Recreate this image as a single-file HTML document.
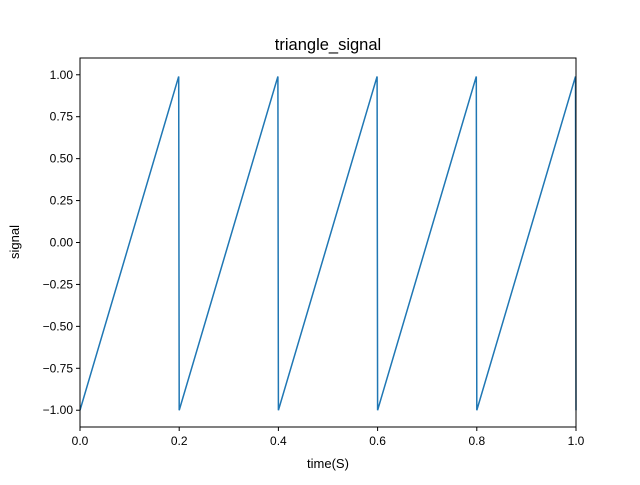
<!DOCTYPE html>
<html><head><meta charset="utf-8"><style>
body{margin:0;background:#fff}
svg text{font-family:"Liberation Sans","DejaVu Sans",sans-serif;fill:#000}
</style></head><body>
<svg id="chart" width="640" height="480">
<rect width="640" height="480" fill="#fff"/>
<text x="328" y="50" font-size="16.5" text-anchor="middle">triangle_signal</text>
<text x="328" y="468" font-size="13" text-anchor="middle">time(S)</text>
<text transform="translate(19,242) rotate(-90)" font-size="13" text-anchor="middle">signal</text>
<g id="ticks"></g>
<path id="line" fill="none" stroke="#1f77b4" stroke-width="1.5"/>
<rect x="80" y="58" width="496" height="369" fill="none" stroke="#000" stroke-width="1"/>
</svg>
<script>
const times=[0,0.199,0.2,0.399,0.4,0.599,0.6,0.799,0.8,0.999,1.0];
const values=[-1,0.99,-1,0.99,-1,0.99,-1,0.99,-1,0.99,-1];
const xTicks=[0,0.2,0.4,0.6,0.8,1.0];
const xTickLabels=["0.0","0.2","0.4","0.6","0.8","1.0"];
const yTicks=[-1,-0.75,-0.5,-0.25,0,0.25,0.5,0.75,1];
const yTickLabels=["−1.00","−0.75","−0.50","−0.25","0.00","0.25","0.50","0.75","1.00"];
const X0=80,X1=576,Y0=427,Y1=58,ymin=-1.1,ymax=1.1;
const sx=t=>X0+(t-0)/(1-0)*(X1-X0);
const sy=v=>Y0-(v-ymin)/(ymax-ymin)*(Y0-Y1);
const NS="http://www.w3.org/2000/svg";
const g=document.getElementById('ticks');
xTicks.forEach((t,i)=>{
 const l=document.createElementNS(NS,'line');
 l.setAttribute('x1',sx(t));l.setAttribute('x2',sx(t));l.setAttribute('y1',Y0);l.setAttribute('y2',Y0+4);l.setAttribute('stroke','#000');
 
 
 g.appendChild(l);
 const tx=document.createElementNS(NS,'text');
 tx.setAttribute('x',sx(t));tx.setAttribute('y',Y0+18);tx.setAttribute('font-size','12');tx.setAttribute('text-anchor','middle');
 tx.textContent=xTickLabels[i];
 
 
 g.appendChild(tx);
});
yTicks.forEach((v,i)=>{
 const l=document.createElementNS(NS,'line');
 l.setAttribute('x1',X0-4);l.setAttribute('x2',X0);l.setAttribute('y1',sy(v));l.setAttribute('y2',sy(v));l.setAttribute('stroke','#000');
 
 
 g.appendChild(l);
 const tx=document.createElementNS(NS,'text');
 tx.setAttribute('x',X0-7);tx.setAttribute('y',sy(v)+4);tx.setAttribute('font-size','12');tx.setAttribute('text-anchor','end');
 tx.textContent=yTickLabels[i];
 
 
 g.appendChild(tx);
});
document.getElementById('line').setAttribute('d',times.map((t,i)=>(i?'L':'M')+sx(t).toFixed(2)+','+sy(values[i]).toFixed(2)).join(''));
</script>
</body></html>
